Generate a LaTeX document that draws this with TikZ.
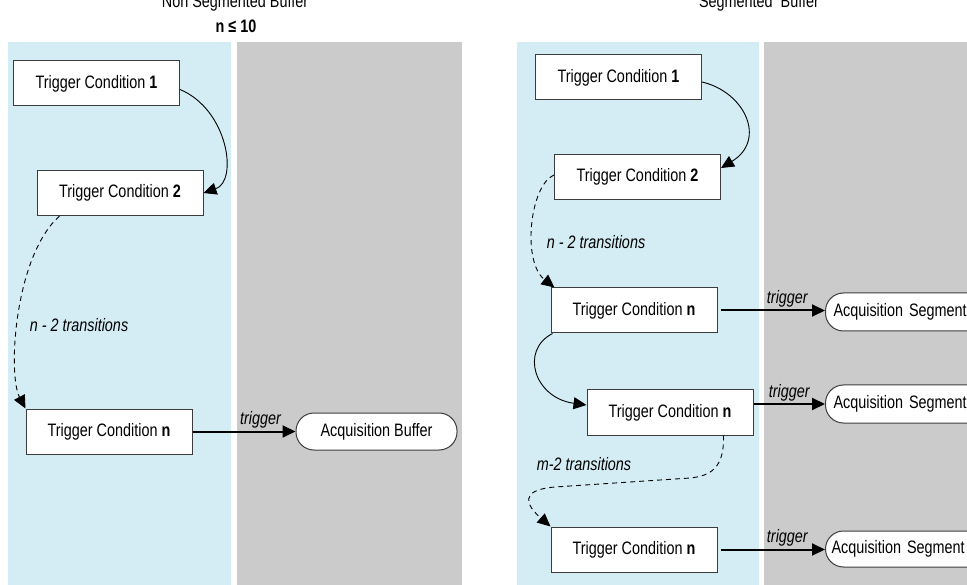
\documentclass[tikz,border=0pt]{standalone}
\usepackage{fontspec}
\setmainfont{Liberation Sans}[FakeStretch=0.8]
\usetikzlibrary{arrows.meta}
\definecolor{panelblue}{RGB}{212,236,243}
\definecolor{panelgrey}{RGB}{203,203,203}
\definecolor{boxline}{RGB}{60,60,60}
\begin{document}
\begin{tikzpicture}[x=1pt,y=-1pt,
  font=\fontsize{18}{21}\selectfont,
  tcbox/.style={draw=boxline, line width=1pt, fill=white, minimum width=166pt, minimum height=45pt, inner sep=0pt},
  acqbox/.style={draw=boxline, line width=1pt, fill=white, rounded corners=18pt, minimum height=37pt, inner sep=0pt},
  curvearrow/.style={line width=0.9pt, -{Triangle[length=13pt,width=12pt]}},
  dasharrow/.style={curvearrow, dash pattern=on 5pt off 4pt},
  trigarrow/.style={line width=2pt, -{Triangle[length=13pt,width=12pt]}},
  lbl/.style={font=\fontsize{18}{21}\selectfont\itshape, inner sep=1pt}]
\useasboundingbox (0,0) rectangle (967,585);
\clip (0,0) rectangle (967,585);
% panels
\fill[panelblue] (8,42) rectangle (231,585);
\fill[panelgrey] (237,42) rectangle (462,585);
\fill[panelblue] (517,42) rectangle (759,585);
\fill[panelgrey] (764,42) rectangle (967,585);
% titles
\node[anchor=base] (t1) at (235,8) {Non Segmented Buffer};
\node[anchor=base, font=\fontsize{18}{21}\selectfont\bfseries] (t2) at (236,33) {n ≤ 10};
\node[anchor=base] (t3) at (759,8) {Segmented\ \ Buffer};
% left nodes
\node[tcbox] (l1) at (96.5,83.5) {Trigger Condition \textbf{1}};
\node[tcbox] (l2) at (120,193) {Trigger Condition \textbf{2}};
\node[tcbox] (ln) at (109,431.5) {Trigger Condition \textbf{n}};
\node[acqbox, minimum width=161pt] (ab) at (376.5,431.5) {Acquisition Buffer};
% right nodes
\node[tcbox] (r1) at (618.5,77.5) {Trigger Condition \textbf{1}};
\node[tcbox] (r2) at (637.5,177) {Trigger Condition \textbf{2}};
\node[tcbox] (rn1) at (634,310.5) {Trigger Condition \textbf{n}};
\node[tcbox] (rn2) at (670,412.5) {Trigger Condition \textbf{n}};
\node[tcbox] (rn3) at (634,549.5) {Trigger Condition \textbf{n}};
\node[acqbox, anchor=west, minimum height=38pt, text width=159pt, inner xsep=8pt, align=left] (as1) at (825,312) {Acquisition Segment};
\node[acqbox, anchor=west, minimum height=38pt, text width=159pt, inner xsep=8pt, align=left] (as2) at (825,404) {Acquisition Segment};
\node[acqbox, anchor=west, minimum height=36pt, text width=159pt, inner xsep=6pt, align=left] (as3) at (825,549) {Acquisition Segment};
% labels
\node[lbl] (lt) at (79,325) {n - 2 transitions};
\node[lbl] (rt) at (596,242) {n - 2 transitions};
\node[lbl] (mt) at (584,464) {m-2 transitions};
% left connectors
\draw[curvearrow] ([yshift=-6pt]l1.east) .. controls +(48,20) and +(35,-12) .. (l2.east);
\draw[dasharrow] ([xshift=23pt]l2.south west) .. controls +(-45,40) and +(-18,-34) .. (ln.north west);
\draw[trigarrow] (ln.east) -- (ab.west) node[lbl, pos=0.66, above=1pt] {trigger};
% right connectors
\draw[curvearrow] ([yshift=-4.5pt]r1.east) .. controls +(43,10) and +(46,-28) .. ([yshift=9pt]r2.east);
\draw[dasharrow] ([yshift=2pt]r2.west) .. controls +(-24,10) and +(-33,-26) .. ([xshift=4pt]rn1.north west);
\draw[curvearrow] ([xshift=2pt]rn1.south west) .. controls +(-33,17) and +(-52,-7) .. ([yshift=7.5pt]rn2.west);
\coordinate (m1) at (690,478);
\coordinate (m2) at (555,487);
\draw[dasharrow] ([xshift=-30pt]rn2.south east) .. controls +(1,33) and +(20,-2) .. (m1) -- (m2) .. controls +(-37,3) and +(-24,-21) .. (rn3.north west);
\draw[trigarrow, shorten <=3pt] (rn1.east) -- (rn1.east -| as1.west) node[lbl, pos=0.65, above=1pt] {trigger};
\draw[trigarrow] (rn2.east |- as2.west) -- (as2.west) node[lbl, pos=0.5, above=1pt] {trigger};
\draw[trigarrow, shorten <=3pt] (rn3.east) -- (rn3.east -| as3.west) node[lbl, pos=0.65, above=1pt] {trigger};
\end{tikzpicture}
\end{document}
